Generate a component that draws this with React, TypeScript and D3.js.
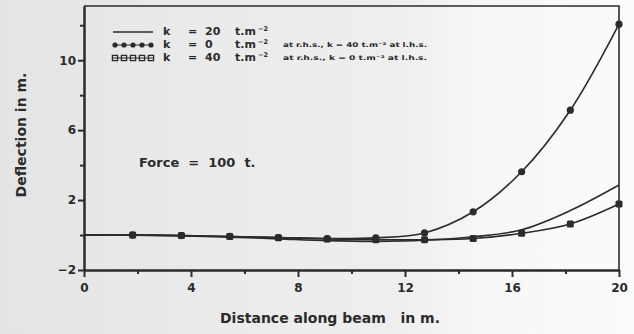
import * as d3 from 'd3';
import React from 'react';

// beam nodes (m) and deflections (m)
const xNodes = [0, 1.82, 3.64, 5.45, 7.27, 9.09, 10.91, 12.73, 14.55, 16.36, 18.18, 20];
const k20 = [0, -0.01, -0.05, -0.12, -0.22, -0.32, -0.36, -0.3, -0.1, 0.3, 1.4, 2.86];
const k0rhs = [0, 0, -0.03, -0.08, -0.14, -0.2, -0.16, 0.12, 1.33, 3.62, 7.14, 12.06];
const k40rhs = [0, 0, -0.03, -0.08, -0.15, -0.22, -0.27, -0.27, -0.2, 0.1, 0.63, 1.77];

const xTicks = [0, 4, 8, 12, 16, 20];
const xMinor = [2, 6, 10, 14, 18];
const yTicks = [-2, 2, 6, 10];
const yMinor = [0, 4, 8, 12];

const W = 634, H = 334;
const FONT = "'DejaVu Sans', sans-serif";
const INK = "#2b2b2b";

function App() {
  const ref = React.useRef<SVGSVGElement>(null);

  React.useEffect(() => {
    const svg = d3.select(ref.current);
    svg.selectAll("*").remove();

    const x = d3.scaleLinear().domain([0, 20]).range([84, 619]);
    const y = d3.scaleLinear().domain([-2, 13.1]).range([270, 6]);

    // paper background, greyer on the left
    const grad = svg.append("defs").append("linearGradient").attr("id", "paper");
    [[0, "#e4e4e4"], [0.35, "#ebebeb"], [0.62, "#eeeeee"], [0.76, "#f7f7f7"], [1, "#fbfbfb"]]
      .forEach(([o, c]) => grad.append("stop").attr("offset", o as number).attr("stop-color", c as string));
    svg.append("rect").attr("width", W).attr("height", H).attr("fill", "url(#paper)");

    // frame top + right
    svg.append("path")
      .attr("d", `M${x(0)},${y(13.1)}H${x(20)}V${y(-2)}`)
      .attr("fill", "none").attr("stroke", INK).attr("stroke-width", 1.6);

    const styleAxis = (g: any) => {
      g.attr("font-family", FONT).attr("font-size", 12).attr("font-weight", "bold");
      g.selectAll("path,line").attr("stroke", INK).attr("stroke-width", 2);
      g.selectAll("text").attr("fill", INK);
    };

    svg.append("g").attr("transform", `translate(0,${y(-2)})`)
      .call(d3.axisBottom(x).tickValues(xMinor).tickSize(4).tickFormat(() => "").tickSizeOuter(0))
      .call(styleAxis);
    svg.append("g").attr("transform", `translate(0,${y(-2)})`)
      .call(d3.axisBottom(x).tickValues(xTicks).tickSize(7).tickPadding(6).tickSizeOuter(0).tickFormat(d3.format("d")))
      .call(styleAxis);

    svg.append("g").attr("transform", `translate(${x(0)},0)`)
      .call(d3.axisLeft(y).tickValues(yMinor).tickSize(4).tickFormat(() => "").tickSizeOuter(0))
      .call(styleAxis);
    svg.append("g").attr("transform", `translate(${x(0)},0)`)
      .call(d3.axisLeft(y).tickValues(yTicks).tickSize(6).tickPadding(2).tickSizeOuter(0).tickFormat(d3.format("d")))
      .call(styleAxis);

    // curves
    const line = d3.line<number>()
      .x((_, i) => x(xNodes[i]))
      .y(d => y(d))
      .curve(d3.curveCatmullRom);

    const curves = svg.append("g").attr("fill", "none").attr("stroke", INK).attr("stroke-width", 1.6);
    [k20, k40rhs, k0rhs].forEach(s => curves.append("path").attr("d", line(s)));

    svg.append("g").attr("fill", INK)
      .selectAll("rect")
      .data(k40rhs.slice(1))
      .join("rect")
      .attr("x", (_, i) => x(xNodes[i + 1]) - 3.5)
      .attr("y", d => y(d) - 3.5)
      .attr("width", 7).attr("height", 7).attr("rx", 1.5);

    svg.append("g").attr("fill", INK)
      .selectAll("circle")
      .data(k0rhs.slice(1))
      .join("circle")
      .attr("cx", (_, i) => x(xNodes[i + 1]))
      .attr("cy", d => y(d))
      .attr("r", 3.6);

    // legend
    const leg = svg.append("g").attr("font-family", FONT).attr("font-weight", "bold").attr("fill", INK);
    const rows = [
      { k: "20", base: 35, note: "" },
      { k: "0", base: 48, note: "at r.h.s., k = 40 t.m\u207B\u00B2 at l.h.s." },
      { k: "40", base: 61, note: "at r.h.s., k = 0  t.m\u207B\u00B2 at l.h.s." },
    ];
    rows.forEach(r => {
      leg.append("text").attr("x", 163).attr("y", r.base).attr("font-size", 11).text("k");
      leg.append("text").attr("x", 188).attr("y", r.base).attr("font-size", 11).text("=");
      leg.append("text").attr("x", 205).attr("y", r.base).attr("font-size", 11).text(r.k);
      leg.append("text").attr("x", 235).attr("y", r.base).attr("font-size", 11).text("t.m");
      leg.append("text").attr("x", 258).attr("y", r.base - 4).attr("font-size", 6.5).text("\u22122");
      if (r.note)
        leg.append("text").attr("x", 283).attr("y", r.base - 1).attr("font-size", 6.5)
          .attr("textLength", 144).attr("lengthAdjust", "spacingAndGlyphs").text(r.note);
    });
    leg.append("line").attr("x1", 113).attr("x2", 153).attr("y1", 32).attr("y2", 32)
      .attr("stroke", INK).attr("stroke-width", 1.6);
    leg.append("line").attr("x1", 113).attr("x2", 153).attr("y1", 45).attr("y2", 45)
      .attr("stroke", INK).attr("stroke-width", 1.2);
    leg.append("line").attr("x1", 113).attr("x2", 153).attr("y1", 58).attr("y2", 58)
      .attr("stroke", INK).attr("stroke-width", 1.2);
    [115, 124, 133, 142, 151].forEach(px => {
      leg.append("circle").attr("cx", px).attr("cy", 45).attr("r", 2.6);
      leg.append("rect").attr("x", px - 2.6).attr("y", 55.4).attr("width", 5.2).attr("height", 5.2)
        .attr("fill", "none").attr("stroke", INK).attr("stroke-width", 1.3);
    });

    // annotations and titles
    svg.append("text").attr("x", 139).attr("y", 167)
      .attr("font-family", FONT).attr("font-size", 13).attr("font-weight", "bold").attr("fill", INK)
      .attr("xml:space", "preserve").text("Force  =  100  t.");

    svg.append("text").attr("x", 330).attr("y", 323).attr("text-anchor", "middle")
      .attr("font-family", FONT).attr("font-size", 14).attr("font-weight", "bold").attr("fill", INK)
      .attr("xml:space", "preserve").text("Distance along beam   in m.");

    svg.append("text").attr("transform", "translate(26,135) rotate(-90)").attr("text-anchor", "middle")
      .attr("font-family", FONT).attr("font-size", 14).attr("font-weight", "bold").attr("fill", INK)
      .text("Deflection in m.");
  }, []);

  return (
    <svg ref={ref} width={W} height={H}
      style={{ position: "absolute", left: 0, top: 0, display: "block" }} />
  );
}

export default App;
